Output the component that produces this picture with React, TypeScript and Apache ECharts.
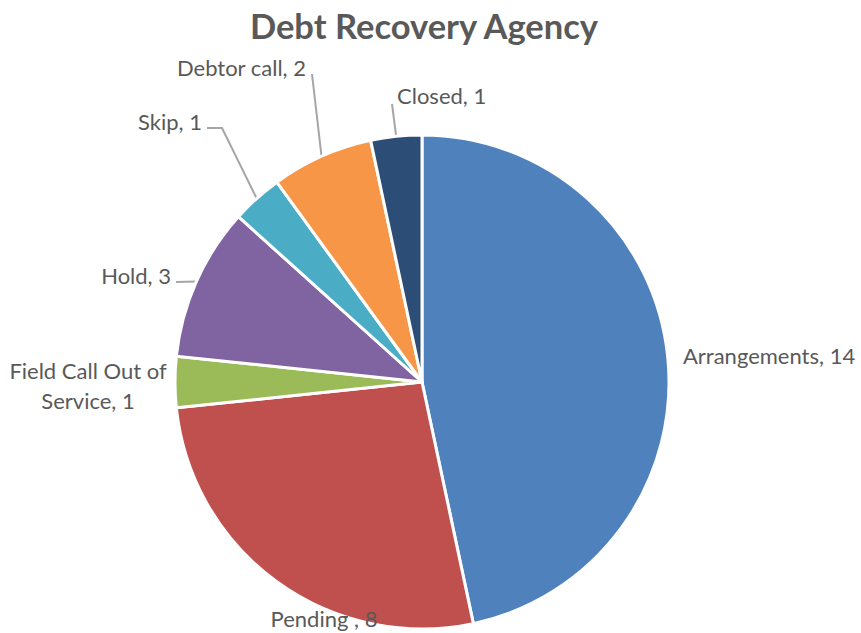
import React, { useEffect, useRef } from "react";
import * as echarts from "echarts";

const categories = [
  "Arrangements",
  "Pending ",
  "Field Call Out of\nService",
  "Hold",
  "Skip",
  "Debtor call",
  "Closed",
];
const values = [14, 8, 1, 3, 1, 2, 1];
const colors = ["#4F81BD", "#C0504D", "#9BBB59", "#8064A2", "#4BACC6", "#F79646", "#2C4D75"];

// label placement (text anchor + optional leader-line bend points), by category index
const labelPlacement: Record<number, { x: number; y: number; align: string; bends?: number[][] }> = {
  0: { x: 683, y: 355, align: "left" },
  1: { x: 324, y: 618, align: "center" },
  2: { x: 88, y: 385, align: "center" },
  3: { x: 171, y: 275, align: "right", bends: [[176, 282]] },
  4: { x: 202, y: 121, align: "right", bends: [[222, 128], [207, 128]] },
  5: { x: 306, y: 67, align: "right", bends: [[312, 74]] },
  6: { x: 397, y: 95, align: "left", bends: [[392, 104]] },
};

export default function App() {
  const ref = useRef<HTMLDivElement>(null);
  useEffect(() => {
    if (!ref.current) return;
    const chart = echarts.init(ref.current, null, { renderer: "svg" });
    chart.setOption({
      animation: false,
      backgroundColor: "#ffffff",
      title: {
        text: "Debt Recovery Agency",
        left: 419,
        textAlign: "center",
        top: 3,
        textStyle: { fontFamily: "Lato", fontSize: 34.5, fontWeight: "bold", color: "#595959" },
      },
      series: [
        {
          type: "pie",
          center: [422, 382],
          radius: 247,
          startAngle: 90,
          clockwise: true,
          avoidLabelOverlap: false,
          itemStyle: { borderColor: "#ffffff", borderWidth: 3 },
          label: {
            show: true,
            position: "outside",
            formatter: (p: any) => `${p.name}, ${p.value}`,
            fontFamily: "Lato",
            fontSize: 22,
            color: "#595959",
            align: "center",
            lineHeight: 30,
          },
          labelLine: {
            show: true,
            length: 20,
            length2: 12,
            lineStyle: { color: "#A6A6A6", width: 2 },
          },
          labelLayout: (params: any) => {
            const pl = labelPlacement[params.dataIndex];
            if (!pl) return {};
            const res: any = { x: pl.x, y: pl.y, align: pl.align, verticalAlign: "middle" };
            if (pl.bends && params.labelLinePoints) {
              res.labelLinePoints = [params.labelLinePoints[0], ...pl.bends];
            }
            return res;
          },
          data: categories.map((c, i) => ({
            name: c,
            value: values[i],
            itemStyle: { color: colors[i] },
            labelLine: { show: !!labelPlacement[i].bends },
          })),
        },
      ],
    });
    return () => chart.dispose();
  }, []);
  return <div ref={ref} style={{ position: "fixed", left: 0, top: 0, width: 861, height: 633 }} />;
}
